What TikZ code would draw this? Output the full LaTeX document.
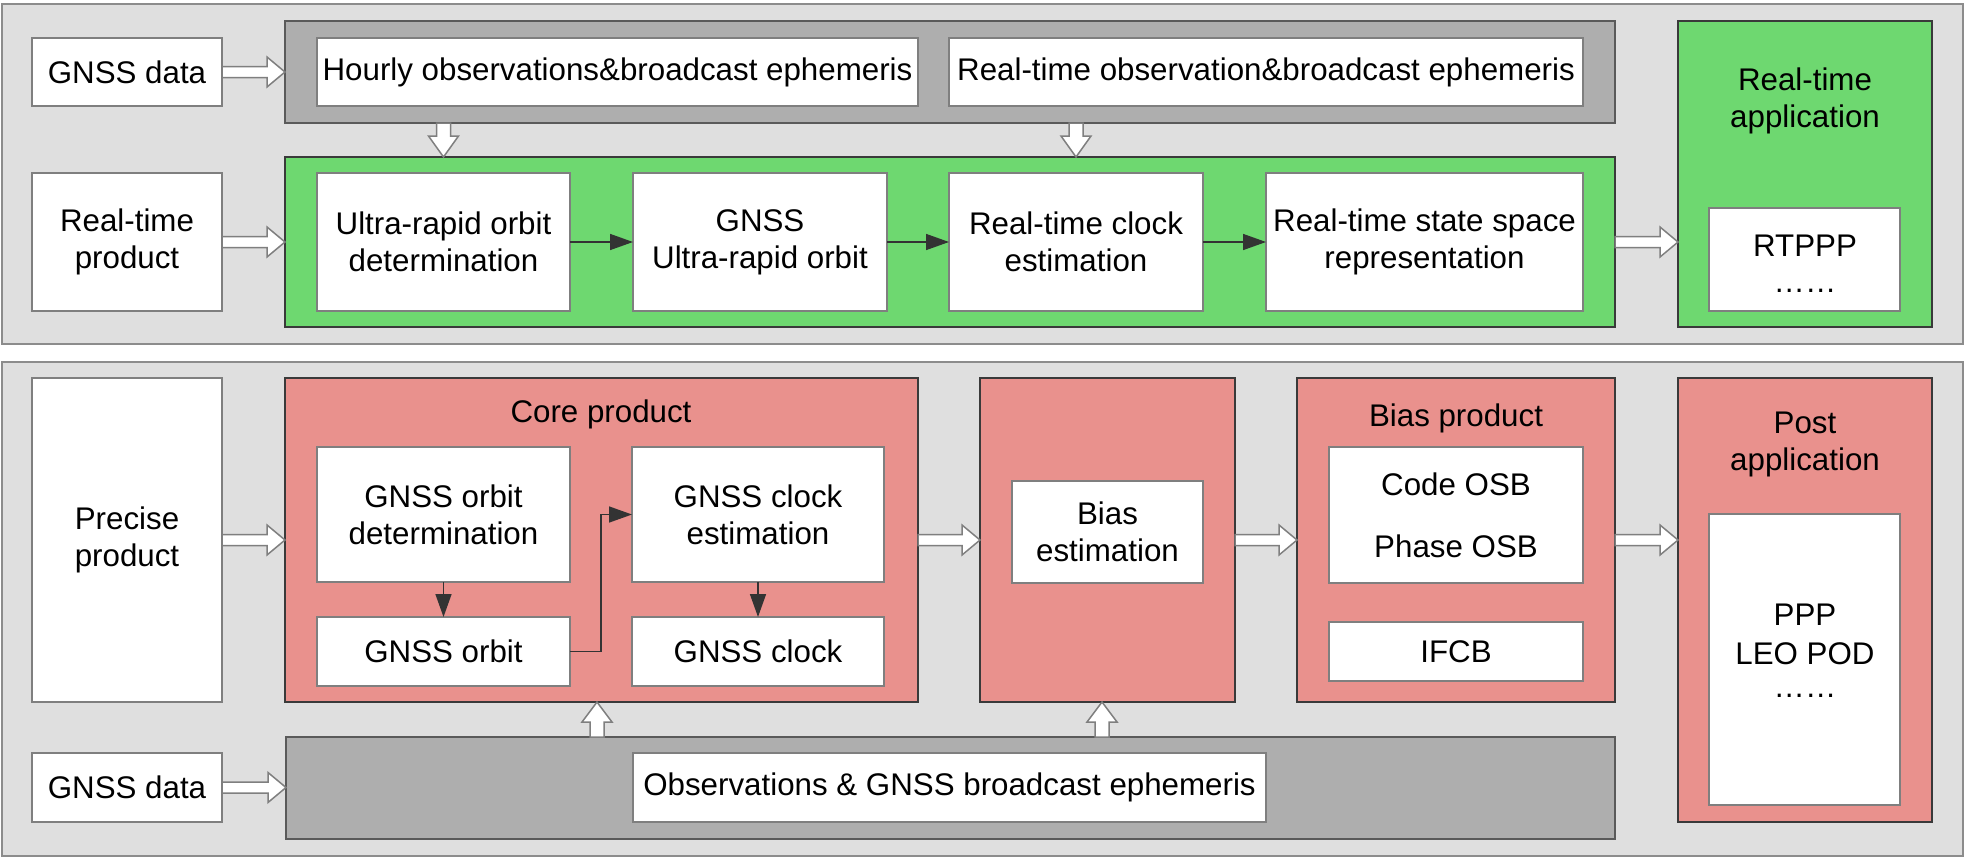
\documentclass[tikz,border=0pt]{standalone}
\usepackage{fontspec}
\setmainfont{Liberation Sans}
\usetikzlibrary{arrows.meta,calc}
\definecolor{outerfill}{HTML}{DFDFDF}
\definecolor{outerline}{HTML}{8C8C8C}
\definecolor{barfill}{HTML}{AEAEAE}
\definecolor{barline}{HTML}{5A5A5A}
\definecolor{greenfill}{HTML}{6ED870}
\definecolor{pinkfill}{HTML}{E9918D}
\definecolor{panelline}{HTML}{3A3A3A}
\definecolor{boxline}{HTML}{7F7F7F}
\newcommand\bx[7]{\node[#2, minimum width={#5-#3}, minimum height={#6-#4}] (#1) at ({(#3+#5)/2},{(#4+#6)/2}) {#7};}
\newcommand\blockR[2]{%
  \draw[blockarr] let \p1=(#1.east), \p2=(#2.west) in
   (\x1,\y1+5.5pt) -- (\x2-18pt,\y1+5.5pt) -- (\x2-18pt,\y1+15pt) -- (\x2,\y1) --
   (\x2-18pt,\y1-15pt) -- (\x2-18pt,\y1-5.5pt) -- (\x1,\y1-5.5pt) -- cycle;}
\newcommand\blockD[3]{%
  \draw[blockarr] let \p1=(#1.south), \p2=(#2.north), \p3=(#3) in
   (\x3-7pt,\y1) -- (\x3-7pt,\y2+21pt) -- (\x3-15pt,\y2+21pt) -- (\x3,\y2) --
   (\x3+15pt,\y2+21pt) -- (\x3+7pt,\y2+21pt) -- (\x3+7pt,\y1) -- cycle;}
\newcommand\blockU[3]{%
  \draw[blockarr] let \p1=(#1.north), \p2=(#2.south), \p3=(#3) in
   (\x3-7pt,\y1) -- (\x3-7pt,\y2-20pt) -- (\x3-15pt,\y2-20pt) -- (\x3,\y2) --
   (\x3+15pt,\y2-20pt) -- (\x3+7pt,\y2-20pt) -- (\x3+7pt,\y1) -- cycle;}
\begin{document}
\begin{tikzpicture}[x=1pt,y=-1pt,
  every node/.style={inner sep=0pt, outer sep=0pt, align=center,
    font=\fontsize{31.3}{37}\selectfont},
  outer/.style={draw=outerline, fill=outerfill, line width=2pt},
  bar/.style={draw=barline, fill=barfill, line width=2pt},
  gpanel/.style={draw=panelline, fill=greenfill, line width=2pt},
  ppanel/.style={draw=panelline, fill=pinkfill, line width=2pt},
  wbox/.style={draw=boxline, fill=white, line width=2pt},
  title/.style={},
  blockarr/.style={draw=boxline, fill=white, line width=1.5pt, line join=miter},
  flow/.style={draw=black!80, line width=1.5pt, -{Triangle[length=23pt,width=16pt]}}]
\useasboundingbox (0,0) rectangle (1965,857);
% outer panels
\bx{toppanel}{outer}{1.5}{4}{1963}{344}{}
\bx{botpanel}{outer}{1.5}{362}{1963}{856}{}
% ---------- top part ----------
\bx{graybar1}{bar}{285}{21}{1615}{123}{}
\bx{greenbar}{gpanel}{285}{157}{1615}{327}{}
\bx{rtapp}{gpanel}{1678}{21}{1932}{327}{}
\node[title] (rtapptitle) at (1805,101) {Real-time\\application};
\bx{gdata1}{wbox}{32}{38}{222}{106}{GNSS data}
\bx{hourly}{wbox}{317}{38}{918}{106}{Hourly observations\&broadcast ephemeris}
\bx{rtobs}{wbox}{949}{38}{1583}{106}{Real-time observation\&broadcast ephemeris}
\bx{rtprod}{wbox}{32}{173}{222}{311}{Real-time\\product}
\bx{urod}{wbox}{317}{173}{570}{311}{Ultra-rapid orbit\\determination}
\bx{gurob}{wbox}{633}{173}{887}{311}{GNSS\\Ultra-rapid orbit}
\bx{rtce}{wbox}{949}{173}{1203}{311}{Real-time clock\\estimation}
\bx{rtssr}{wbox}{1266}{173}{1583}{311}{Real-time state space\\representation}
\bx{rtppp}{wbox}{1709}{208}{1900}{311}{}
\node (rtppptext) at (1805,264) {RTPPP\\[-1pt]……};
% ---------- bottom part ----------
\bx{precise}{wbox}{32}{378}{222}{702}{Precise\\product}
\bx{core}{ppanel}{285}{378}{918}{702}{}
\node[title] (coretitle) at (601,414) {Core product};
\bx{god}{wbox}{317}{447}{570}{582}{GNSS orbit\\determination}
\bx{gorb}{wbox}{317}{617}{570}{686}{GNSS orbit}
\bx{gce}{wbox}{632}{447}{884}{582}{GNSS clock\\estimation}
\bx{gclk}{wbox}{632}{617}{884}{686}{GNSS clock}
\bx{biaspanel}{ppanel}{980}{378}{1235}{702}{}
\bx{biasest}{wbox}{1012}{481}{1203}{583}{Bias\\estimation}
\bx{biasprod}{ppanel}{1297}{378}{1615}{702}{}
\node[title] (biastitle) at (1456,418) {Bias product};
\bx{osb}{wbox}{1329}{447}{1583}{583}{Code OSB\\[25pt]Phase OSB}
\bx{ifcb}{wbox}{1329}{622}{1583}{681}{IFCB}
\bx{post}{ppanel}{1678}{378}{1932}{822}{}
\node[title] (posttitle) at (1805,444) {Post\\application};
\bx{ppp}{wbox}{1709}{514}{1900}{805}{}
\node (ppptext) at (1805,651) {PPP\\[2pt]LEO POD\\[-4pt]……};
\bx{graybar2}{bar}{286}{737}{1615}{839}{}
\bx{gdata2}{wbox}{32}{753}{222}{822}{GNSS data}
\bx{obs}{wbox}{633}{753}{1266}{822}{Observations \& GNSS broadcast ephemeris}
% ---------- connectors ----------
\draw[flow] (urod) -- (gurob);
\draw[flow] (gurob) -- (rtce);
\draw[flow] (rtce) -- (rtssr);
\draw[flow] (god) -- (gorb);
\draw[flow] (gce) -- (gclk);
\draw[flow] (gorb.east) -- ++(31,0) |- (gce.west);
\blockR{gdata1}{graybar1}
\blockR{rtprod}{greenbar}
\blockR{greenbar}{rtapp}
\blockD{graybar1}{greenbar}{urod}
\blockD{graybar1}{greenbar}{rtce}
\blockR{precise}{core}
\blockR{core}{biaspanel}
\blockR{biaspanel}{biasprod}
\blockR{biasprod}{post}
\blockR{gdata2}{graybar2}
\coordinate (up1) at (597,720);
\coordinate (up2) at (1102,720);
\blockU{graybar2}{core}{up1}
\blockU{graybar2}{biaspanel}{up2}
\end{tikzpicture}
\end{document}
